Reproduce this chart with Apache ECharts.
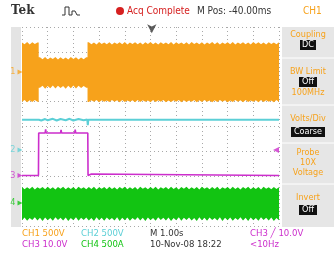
<!DOCTYPE html>
<html>
<head>
<meta charset="utf-8">
<script src="https://cdn.jsdelivr.net/npm/echarts@6/dist/echarts.min.js"></script>
<style>
  html, body { margin: 0; padding: 0; background: #fff; }
  #scope { width: 334px; height: 253px; }
</style>
</head>
<body>
<div id="scope"></div>
<script>
// scope traces, in divisions (x: 0..10 div, y: -4..4 div)
// CH1 envelope, one value every 0.1 div
var ch1Hi = [
  3.38, 3.31, 3.40, 3.30, 3.39, 3.32, 3.38,
  2.78, 2.70, 2.79, 2.69, 2.77, 2.71, 2.79, 2.69, 2.78, 2.70, 2.77, 2.69, 2.79, 2.71, 2.78, 2.69, 2.77, 2.70, 2.78,
  3.39, 3.31, 3.38, 3.30, 3.40, 3.32, 3.38, 3.31, 3.39, 3.30,
  3.38, 3.32, 3.39, 3.31, 3.40, 3.30, 3.38, 3.32, 3.39, 3.31,
  3.38, 3.30, 3.39, 3.32, 3.40, 3.31, 3.38, 3.30, 3.39, 3.32,
  3.38, 3.31, 3.40, 3.30, 3.39, 3.32, 3.38, 3.31, 3.39, 3.30,
  3.40, 3.32, 3.38, 3.31, 3.39, 3.30, 3.38, 3.32, 3.40, 3.31,
  3.39, 3.30, 3.38, 3.32, 3.39, 3.31, 3.40, 3.30, 3.38, 3.32,
  3.39, 3.31, 3.38, 3.30, 3.40, 3.32, 3.39, 3.31, 3.38, 3.30,
  3.39, 3.32, 3.38, 3.31, 3.39
];
var ch1Lo = [
  0.99, 1.07, 0.97, 1.06, 0.98, 1.07, 0.99,
  1.56, 1.64, 1.52, 1.63, 1.54, 1.65, 1.53, 1.64, 1.55, 1.63, 1.52, 1.64, 1.54, 1.65, 1.53, 1.64, 1.55, 1.63, 1.56,
  0.98, 1.06, 0.99, 1.07, 0.97, 1.06, 0.99, 1.05, 0.98, 1.07,
  0.99, 1.06, 0.97, 1.07, 0.98, 1.05, 0.99, 1.06, 0.97, 1.07,
  0.98, 1.06, 0.99, 1.05, 0.97, 1.07, 0.98, 1.06, 0.99, 1.07,
  0.97, 1.05, 0.98, 1.06, 0.99, 1.07, 0.97, 1.06, 0.98, 1.05,
  0.99, 1.07, 0.97, 1.06, 0.98, 1.07, 0.99, 1.05, 0.97, 1.06,
  0.98, 1.07, 0.99, 1.06, 0.97, 1.05, 0.98, 1.07, 0.99, 1.06,
  0.97, 1.07, 0.98, 1.05, 0.99, 1.06, 0.97, 1.07, 0.98, 1.06,
  0.99, 1.05, 0.97, 1.07, 0.98
];
// CH4 envelope, one value every 0.1 div
var ch4Hi = [
  -2.43, -2.52, -2.44, -2.51, -2.42, -2.53, -2.44, -2.50, -2.43, -2.52,
  -2.42, -2.51, -2.44, -2.53, -2.43, -2.50, -2.42, -2.52, -2.44, -2.51,
  -2.43, -2.53, -2.42, -2.50, -2.44, -2.52, -2.43, -2.51, -2.42, -2.53,
  -2.44, -2.50, -2.43, -2.52, -2.42, -2.51, -2.44, -2.53, -2.43, -2.50,
  -2.42, -2.52, -2.44, -2.51, -2.43, -2.53, -2.42, -2.50, -2.44, -2.52,
  -2.43, -2.51, -2.42, -2.53, -2.44, -2.50, -2.43, -2.52, -2.42, -2.51,
  -2.44, -2.53, -2.43, -2.50, -2.42, -2.52, -2.44, -2.51, -2.43, -2.53,
  -2.42, -2.50, -2.44, -2.52, -2.43, -2.51, -2.42, -2.53, -2.44, -2.50,
  -2.43, -2.52, -2.42, -2.51, -2.44, -2.53, -2.43, -2.50, -2.42, -2.52,
  -2.44, -2.51, -2.43, -2.53, -2.42, -2.50, -2.44, -2.52, -2.43, -2.51,
  -2.44
];
var ch4Lo = [
  -3.77, -3.66, -3.79, -3.68, -3.76, -3.65, -3.78, -3.67, -3.80, -3.66,
  -3.77, -3.68, -3.79, -3.65, -3.76, -3.67, -3.78, -3.66, -3.80, -3.68,
  -3.77, -3.65, -3.79, -3.67, -3.76, -3.66, -3.78, -3.68, -3.80, -3.65,
  -3.77, -3.67, -3.79, -3.66, -3.76, -3.68, -3.78, -3.65, -3.80, -3.67,
  -3.77, -3.66, -3.79, -3.68, -3.76, -3.65, -3.78, -3.67, -3.80, -3.66,
  -3.77, -3.68, -3.79, -3.65, -3.76, -3.67, -3.78, -3.66, -3.80, -3.68,
  -3.77, -3.65, -3.79, -3.67, -3.76, -3.66, -3.78, -3.68, -3.80, -3.65,
  -3.77, -3.67, -3.79, -3.66, -3.76, -3.68, -3.78, -3.65, -3.80, -3.67,
  -3.77, -3.66, -3.79, -3.68, -3.76, -3.65, -3.78, -3.67, -3.80, -3.66,
  -3.77, -3.68, -3.79, -3.65, -3.76, -3.67, -3.78, -3.66, -3.80, -3.68,
  -3.77
];
// CH2 and CH3 as [time, level] points
var ch2Trace = [
  [0, 0.27], [0.66, 0.27], [0.7, 0.31], [0.75, 0.24], [0.9, 0.30], [1.0, 0.25], [1.2, 0.31],
  [1.35, 0.24], [1.5, 0.30], [1.7, 0.25], [1.85, 0.31], [2.0, 0.24], [2.2, 0.30], [2.4, 0.25],
  [2.54, 0.28], [2.56, 0.05], [2.58, 0.27], [10, 0.27]
];
var ch3Trace = [
  [0, -1.97], [0.64, -1.97], [0.65, -0.26], [0.9, -0.26], [0.92, -0.12], [0.94, -0.26],
  [1.5, -0.26], [1.52, -0.14], [1.54, -0.26], [2.05, -0.26], [2.07, -0.13], [2.09, -0.26],
  [2.56, -0.26], [2.57, -1.97], [2.7, -1.91], [2.72, -1.97], [10, -1.97]
];
var chNames = ['1', '2', '3', '4'];
var chLevels = [2.19, -0.94, -1.97, -3.08];
var chColors = ['#f7a21b', '#5ccfd6', '#cc2ecc', '#12c412'];
var trigLevel = -0.94;
var trigTime = 5.05;

var FONT = "'Liberation Sans Narrow','DejaVu Sans Condensed',sans-serif";

// edge of a band: zigzag between samples, but jump straight up/down on big steps
function edge(vals) {
  var out = [];
  for (var i = 0; i < vals.length; i++) {
    out.push([i * 0.1, vals[i]]);
    if (i < vals.length - 1 && Math.abs(vals[i + 1] - vals[i]) > 0.3) {
      out.push([i * 0.1 + 0.05, vals[i]]);
      out.push([i * 0.1 + 0.05, vals[i + 1]]);
    }
  }
  return out;
}

function envelope(hi, lo, color) {
  var top = edge(hi), bot = edge(lo).reverse();
  return {
    type: 'custom',
    silent: true,
    data: [[0, lo[0], hi[0]]],
    encode: { x: 0, y: [1, 2] },
    renderItem: function (params, api) {
      var pts = top.concat(bot).map(function (p) { return api.coord(p); });
      return { type: 'polygon', shape: { points: pts }, style: { fill: color } };
    }
  };
}

var myChart = echarts.init(document.getElementById('scope'));

var markers = chNames.map(function (n, i) {
  return {
    value: [0, chLevels[i]],
    name: n,
    itemStyle: { color: chColors[i] },
    label: { color: chColors[i] }
  };
});

function txt(x, y, s, color, size, extra) {
  var o = { type: 'text', x: x, y: y, silent: true,
    style: { text: s, fill: color, font: (size || 9) + 'px ' + FONT, textVerticalAlign: 'middle' } };
  if (extra) for (var k in extra) o.style[k] = extra[k];
  return o;
}
function box(cx, cy, w, s) {
  return [
    { type: 'rect', shape: { x: cx - w / 2, y: cy - 5, width: w, height: 10 }, style: { fill: '#111' }, silent: true },
    txt(cx, cy, s, '#fff', 9, { textAlign: 'center' })
  ];
}

var orange = chColors[0], ink = '#333';
var sep = function (y) {
  return { type: 'line', shape: { x1: 282, y1: y, x2: 334, y2: y }, style: { stroke: '#fff', lineWidth: 1 }, silent: true };
};
var elements = [
  { type: 'rect', shape: { x: 11, y: 27, width: 10, height: 200 }, style: { fill: '#e4e4e4' }, silent: true },
  { type: 'rect', shape: { x: 282, y: 27, width: 52, height: 200 }, style: { fill: '#e6e6e6' }, silent: true },
  sep(58), sep(105), sep(143), sep(184),
  txt(11, 11, 'Tek', ink, 12, { font: 'bold 12px "DejaVu Serif",serif' }),
  { type: 'polyline', shape: { points: [[62, 15], [65, 15], [65, 7], [69, 7], [69, 15], [72, 15], [72, 11], [75, 11], [77, 15], [80, 15]] },
    style: { stroke: ink, lineWidth: 1, fill: null }, silent: true },
  { type: 'circle', shape: { cx: 120, cy: 11, r: 4 }, style: { fill: '#d62020' }, silent: true },
  txt(127, 11, 'Acq Complete', '#d62020', 10),
  txt(197, 11, 'M Pos: -40.00ms', ink, 10),
  txt(303, 11, 'CH1', orange, 10),
  txt(308, 35, 'Coupling', orange, 9, { textAlign: 'center' }),
  txt(308, 72, 'BW Limit', orange, 9, { textAlign: 'center' }),
  txt(308, 93, '100MHz', orange, 9, { textAlign: 'center' }),
  txt(308, 119, 'Volts/Div', orange, 9, { textAlign: 'center' }),
  txt(308, 153, 'Probe', orange, 9, { textAlign: 'center' }),
  txt(308, 163, '10X', orange, 9, { textAlign: 'center' }),
  txt(308, 173, 'Voltage', orange, 9, { textAlign: 'center' }),
  txt(308, 198, 'Invert', orange, 9, { textAlign: 'center' }),
  txt(22, 234, 'CH1 500V', orange, 9.5),
  txt(81, 234, 'CH2 500V', chColors[1], 9.5),
  txt(150, 234, 'M 1.00s', ink, 9.5),
  txt(250, 234, 'CH3 \u2571 10.0V', chColors[2], 9.5),
  txt(22, 245, 'CH3 10.0V', chColors[2], 9.5),
  txt(81, 245, 'CH4 500A', chColors[3], 9.5),
  txt(150, 245, '10-Nov-08 18:22', ink, 9.5),
  txt(250, 245, '<10Hz', chColors[2], 9.5)
].concat(box(308, 45, 16, 'DC'), box(308, 82, 18, 'Off'), box(308, 132, 34, 'Coarse'), box(308, 210, 18, 'Off'));

var option = {
  animation: false,
  backgroundColor: '#fff',
  grid: { left: 22, top: 27, width: 257, height: 199, show: false },
  xAxis: {
    type: 'value', min: 0, max: 10, interval: 1,
    axisLine: { show: false }, axisTick: { show: false }, axisLabel: { show: false },
    splitLine: { show: true, lineStyle: { color: '#a8a8a8', type: [1, 3], width: 1 } }
  },
  yAxis: {
    type: 'value', min: -4, max: 4, interval: 1,
    axisLine: { show: false }, axisTick: { show: false }, axisLabel: { show: false },
    splitLine: { show: true, lineStyle: { color: '#a8a8a8', type: [1, 3], width: 1 } }
  },
  graphic: { elements: elements },
  series: [
    envelope(ch1Hi, ch1Lo, chColors[0]),
    envelope(ch4Hi, ch4Lo, chColors[3]),
    {
      type: 'line', data: ch2Trace, symbol: 'none', silent: true,
      lineStyle: { color: chColors[1], width: 2 }
    },
    {
      type: 'line', data: ch3Trace, symbol: 'none', silent: true,
      lineStyle: { color: chColors[2], width: 1.6 }
    },
    {
      // channel ground markers on the left edge
      type: 'scatter', data: markers, clip: false, silent: true,
      symbol: 'triangle', symbolRotate: -90, symbolSize: 5, symbolOffset: [-2, 0],
      label: { show: true, position: 'left', distance: 2, formatter: '{b}', fontSize: 9, fontFamily: FONT }
    },
    {
      // trigger level on the right edge
      type: 'scatter', clip: false, silent: true,
      data: [[10, trigLevel]],
      symbol: 'triangle', symbolSize: 6, symbolRotate: 90, symbolOffset: [-3, 0],
      itemStyle: { color: chColors[2] }
    },
    {
      // trigger position at the top
      type: 'scatter', clip: false, silent: true,
      data: [[trigTime, 3.75]],
      symbol: 'arrow', symbolSize: [7, 9], symbolRotate: 180,
      itemStyle: { color: ink }
    }
  ]
};
myChart.setOption(option);
</script>
</body>
</html>
